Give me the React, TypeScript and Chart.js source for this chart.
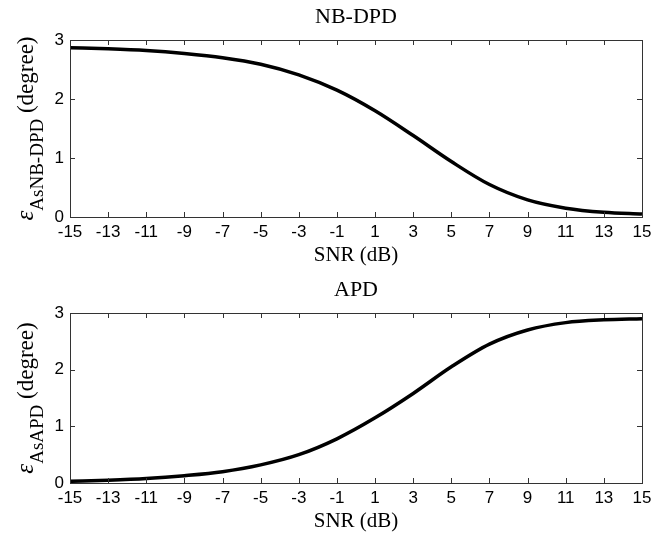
import React, { useEffect, useRef } from "react";
import { Chart, registerables } from "chart.js";
Chart.register(...registerables);

const snr = [-15, -13, -11, -9, -7, -5, -3, -1, 1, 3, 5, 7, 9, 11, 13, 15];
const nbdpd = [2.87, 2.85, 2.82, 2.77, 2.7, 2.59, 2.41, 2.15, 1.8, 1.38, 0.94, 0.55, 0.29, 0.15, 0.08, 0.05];
const apd = [0.03, 0.05, 0.08, 0.13, 0.2, 0.32, 0.5, 0.78, 1.15, 1.58, 2.05, 2.45, 2.7, 2.83, 2.88, 2.9];
const xTicks = [-15, -13, -11, -9, -7, -5, -3, -1, 1, 3, 5, 7, 9, 11, 13, 15];
const yTicks = [0, 1, 2, 3];

type PanelProps = { title: string; sub: string; values: number[]; height: number; plotTop: number; plotBottom: number };

function Panel({ title, sub, values, height, plotTop, plotBottom }: PanelProps) {
  const ref = useRef<HTMLCanvasElement>(null);
  useEffect(() => {
    const ctxEl = ref.current!;
    const deco = {
      id: "deco",
      afterDraw(chart: any) {
        const ctx = chart.ctx as CanvasRenderingContext2D;
        const a = chart.chartArea;
        const xs = chart.scales.x;
        const ys = chart.scales.y;
        ctx.save();
        ctx.strokeStyle = "#333";
        ctx.lineWidth = 1;
        ctx.strokeRect(Math.round(a.left) + 0.5, Math.round(a.top) + 0.5, Math.round(a.right - a.left), Math.round(a.bottom - a.top));
        const tl = 5;
        ctx.beginPath();
        xTicks.forEach((v) => {
          const px = Math.round(xs.getPixelForValue(v)) + 0.5;
          ctx.moveTo(px, a.bottom);
          ctx.lineTo(px, a.bottom - tl);
          ctx.moveTo(px, a.top);
          ctx.lineTo(px, a.top + tl);
        });
        yTicks.forEach((v) => {
          const py = Math.round(ys.getPixelForValue(v)) + 0.5;
          ctx.moveTo(a.left, py);
          ctx.lineTo(a.left + tl, py);
          ctx.moveTo(a.right, py);
          ctx.lineTo(a.right - tl, py);
        });
        ctx.stroke();
        const cx = (a.left + a.right) / 2;
        ctx.fillStyle = "#000";
        ctx.textAlign = "center";
        ctx.textBaseline = "middle";
        ctx.font = "22px 'Liberation Serif'";
        ctx.fillText(title, cx, a.top - 23);
        ctx.font = "21px 'Liberation Serif'";
        ctx.fillText("SNR (dB)", cx, a.bottom + 38);
        // y title
        const cy = (a.top + a.bottom) / 2;
        ctx.translate(24, cy);
        ctx.rotate(-Math.PI / 2);
        ctx.textAlign = "left";
        ctx.textBaseline = "alphabetic";
        const f1 = "italic 25px 'Liberation Serif'";
        const f2 = "19px 'Liberation Serif'";
        const f3 = "23px 'Liberation Serif'";
        ctx.font = f1;
        const w1 = ctx.measureText("ε").width;
        ctx.font = f2;
        const w2 = ctx.measureText(sub).width;
        ctx.font = f3;
        const w3 = ctx.measureText(" (degree)").width;
        let x0 = -(w1 + w2 + w3) / 2;
        const base = 9;
        ctx.font = f1;
        ctx.fillText("ε", x0, base);
        x0 += w1;
        ctx.font = f2;
        ctx.fillText(sub, x0, base + 10);
        x0 += w2;
        ctx.font = f3;
        ctx.fillText(" (degree)", x0, base);
        ctx.restore();
      },
    };
    const chart = new Chart(ctxEl, {
      type: "line",
      data: {
        datasets: [
          {
            data: snr.map((x, i) => ({ x, y: values[i] })),
            borderColor: "#000",
            borderWidth: 3.5,
            pointRadius: 0,
            cubicInterpolationMode: "monotone",
            fill: false,
          },
        ],
      },
      options: {
        animation: false,
        responsive: false,
        maintainAspectRatio: false,
        events: [],
        layout: { padding: { top: plotTop, right: 24, left: 0, bottom: 0 } },
        plugins: { legend: { display: false }, tooltip: { enabled: false }, title: { display: false } },
        scales: {
          x: {
            type: "linear",
            min: -15,
            max: 15,
            afterBuildTicks: (s: any) => {
              s.ticks = xTicks.map((v) => ({ value: v }));
            },
            afterFit: (s: any) => {
              s.height = height - plotBottom;
            },
            grid: { display: false, drawTicks: false },
            border: { display: false },
            ticks: {
              color: "#000",
              padding: 5,
              autoSkip: false,
              maxRotation: 0,
              font: { family: "'Liberation Sans'", size: 17 },
              callback: (v: any) => String(v),
            },
          },
          y: {
            type: "linear",
            min: 0,
            max: 3,
            afterBuildTicks: (s: any) => {
              s.ticks = yTicks.map((v) => ({ value: v }));
            },
            afterFit: (s: any) => {
              s.width = 70;
            },
            grid: { display: false, drawTicks: false },
            border: { display: false },
            ticks: {
              color: "#000",
              padding: 6,
              font: { family: "'Liberation Sans'", size: 17 },
              callback: (v: any) => String(v),
            },
          },
        },
      },
      plugins: [deco],
    } as any);
    return () => chart.destroy();
  }, []);
  return <canvas ref={ref} width={666} height={height} style={{ display: "block", width: 666, height }} />;
}

export default function App() {
  return (
    <div style={{ position: "fixed", left: 0, top: 0, width: 666, height: 534, background: "#fff" }}>
      <Panel title="NB-DPD" sub="AsNB-DPD" values={nbdpd} height={270} plotTop={40} plotBottom={217} />
      <Panel title="APD" sub="AsAPD" values={apd} height={264} plotTop={43} plotBottom={213} />
    </div>
  );
}
